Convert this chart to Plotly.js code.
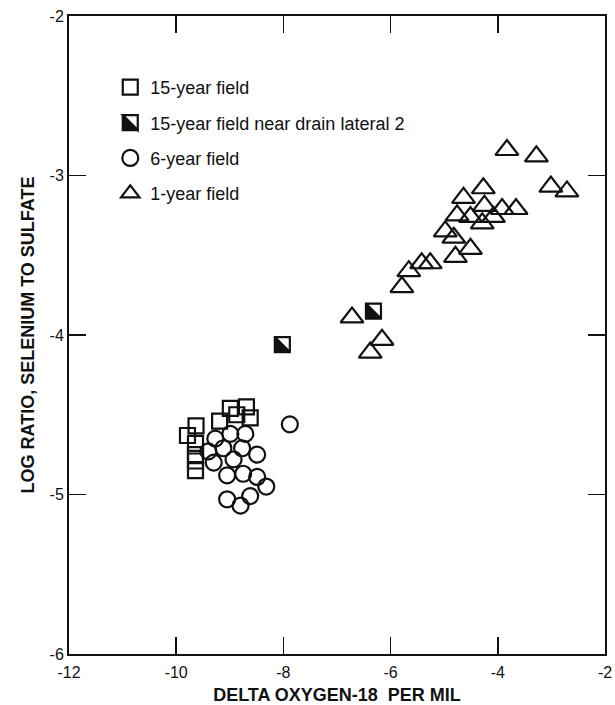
<!DOCTYPE html>
<html>
<head>
<meta charset="utf-8">
<script src="https://cdn.plot.ly/plotly-3.0.1.min.js"></script>
<style>
  html, body { margin: 0; padding: 0; background: #fff; }
  #plot { width: 615px; height: 705px; }
</style>
</head>
<body>
<div id="plot"></div>
<script>
// Axis ticks and labels
var xTickVals = [-12, -10, -8, -6, -4, -2];
var xTickText = ['-12', '-10', '-8', '-6', '-4', '-2'];
var yTickVals = [-6, -5, -4, -3, -2];
var yTickText = ['-6', '-5', '-4', '-3', '-2'];

// 15-year field (open squares)
var sq15X = [-8.99, -8.69, -8.87, -8.62, -9.19, -9.63, -9.79, -9.64, -9.64, -9.64, -9.64];
var sq15Y = [-4.46, -4.45, -4.50, -4.52, -4.54, -4.57, -4.63, -4.68, -4.75, -4.79, -4.85];

// 15-year field near drain lateral 2 (half-filled squares)
var drainX = [-8.02, -6.32];
var drainY = [-4.06, -3.85];

// 6-year field (open circles)
var circ6X = [-7.88, -9.27, -8.99, -8.71, -9.40, -9.12, -8.77, -8.49, -9.30, -8.93, -9.05, -8.75, -8.49, -8.32, -8.62, -9.05, -8.80];
var circ6Y = [-4.56, -4.65, -4.62, -4.62, -4.73, -4.71, -4.71, -4.75, -4.80, -4.78, -4.88, -4.87, -4.89, -4.95, -5.01, -5.03, -5.07];

// 1-year field (open triangles)
var tri1X = [-3.83, -3.28, -3.01, -2.71, -4.27, -4.64, -4.25, -3.92, -3.66, -4.08,
             -4.76, -4.51, -4.29, -4.98, -4.82, -4.51, -4.79, -5.42, -5.26, -5.66,
             -5.79, -6.72, -6.16, -6.38];
var tri1Y = [-2.84, -2.88, -3.07, -3.10, -3.08, -3.14, -3.19, -3.21, -3.21, -3.26,
             -3.25, -3.26, -3.30, -3.35, -3.39, -3.46, -3.51, -3.55, -3.55, -3.60,
             -3.70, -3.89, -4.03, -4.11];

var seriesNames = ['15-year field', '15-year field near drain lateral 2', '6-year field', '1-year field'];

var FONT = 'Liberation Sans, Arial, Helvetica, sans-serif';
var lw = 2.2;

var data = [
  { x: sq15X, y: sq15Y, name: seriesNames[0], type: 'scatter', mode: 'markers', legendgroup: 'a',
    marker: { symbol: 'square-open', size: 15, color: '#111', line: { width: lw, color: '#111' } } },
  { x: drainX, y: drainY, name: seriesNames[1], type: 'scatter', mode: 'markers', legendgroup: 'b',
    marker: { symbol: 'square', size: 15, color: '#111', line: { width: lw, color: '#111' } } },
  { x: circ6X, y: circ6Y, name: seriesNames[2], type: 'scatter', mode: 'markers', legendgroup: 'c',
    marker: { symbol: 'circle-open', size: 16, color: '#111', line: { width: lw, color: '#111' } } },
  { x: tri1X, y: tri1Y, name: seriesNames[3], type: 'scatter', mode: 'markers', legendgroup: 'd',
    marker: { symbol: 'triangle-up-open', size: 20, color: '#111', line: { width: lw, color: '#111' } } }
];

var axisCommon = {
  showgrid: false, zeroline: false, showline: true, linecolor: '#111', linewidth: 2,
  mirror: 'ticks', ticks: 'inside', ticklen: 17, tickwidth: 1.6, tickcolor: '#111',
  tickfont: { family: FONT, size: 16, color: '#111' }
};

var layout = {
  width: 615, height: 705,
  margin: { l: 69, r: 10, t: 16, b: 51 },
  paper_bgcolor: '#fff', plot_bgcolor: '#fff',
  font: { family: FONT, color: '#111' },
  showlegend: true,
  legend: {
    x: 0.077, y: 0.917, xanchor: 'left', yanchor: 'top',
    bgcolor: 'rgba(0,0,0,0)', borderwidth: 0,
    font: { family: FONT, size: 18, color: '#111' },
    tracegroupgap: 9, itemwidth: 30
  },
  xaxis: Object.assign({}, axisCommon, {
    range: [-12, -2], tickmode: 'array', tickvals: xTickVals, ticktext: xTickText,
    ticklabelstandoff: 3,
    title: { text: 'DELTA OXYGEN-18\u00A0 PER MIL', font: { family: FONT, size: 18, weight: 'bold', color: '#111' }, standoff: 10 }
  }),
  yaxis: Object.assign({}, axisCommon, {
    range: [-6, -2], tickmode: 'array', tickvals: yTickVals, ticktext: yTickText,
    title: { text: 'LOG RATIO, SELENIUM TO SULFATE', font: { family: FONT, size: 18, weight: 'bold', color: '#111' }, standoff: 10 }
  })
};

function halfSquare(path) {
  var d = path.getAttribute('d') || '';
  var m = d.match(/^M([\d.]+),/);
  if (!m) return;
  var r = m[1];
  path.setAttribute('d', 'M' + r + ',' + r + 'H-' + r + 'V-' + r + 'H' + r + 'Z' +
                         'M-' + r + ',-' + r + 'H' + r + 'V' + r + 'Z');
  path.setAttribute('fill-rule', 'evenodd');
  path.style.fillRule = 'evenodd';
}

Plotly.newPlot('plot', data, layout, { staticPlot: true, displayModeBar: false }).then(function (gd) {
  var traces = gd.querySelectorAll('.scatterlayer .trace');
  if (traces[1]) traces[1].querySelectorAll('path.point').forEach(halfSquare);
  var leg = gd.querySelectorAll('.legend .traces');
  if (leg[1]) leg[1].querySelectorAll('.legendpoints path').forEach(halfSquare);
});
</script>
</body>
</html>
